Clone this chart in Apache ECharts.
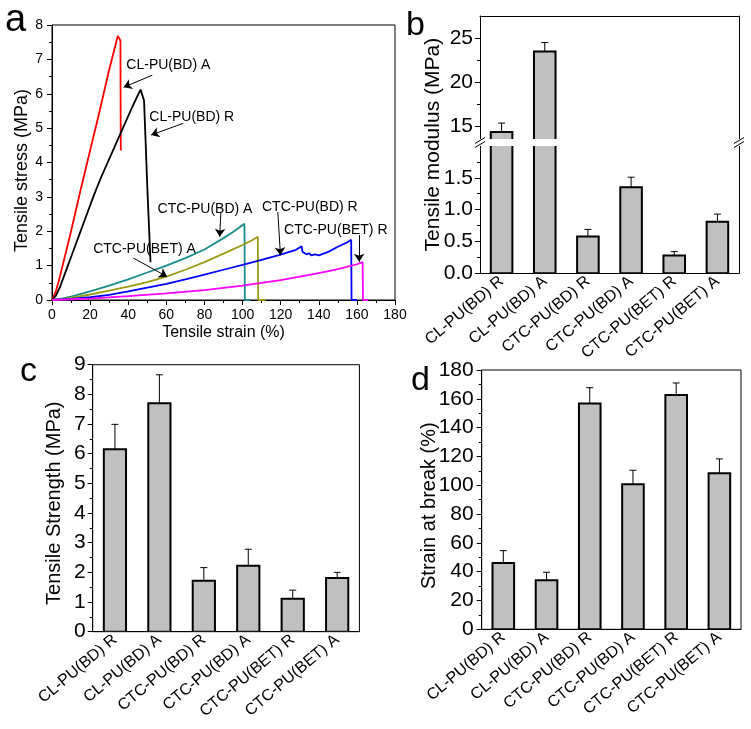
<!DOCTYPE html>
<html><head><meta charset="utf-8">
<script src="https://cdn.jsdelivr.net/npm/echarts@6/dist/echarts.min.js"></script>
<style>html,body{margin:0;padding:0;background:#fff}#c{width:751px;height:729px}</style>
</head><body><div id="c"></div>
<script>
// ---------- DATA ----------
const categories = ['CL-PU(BD) R','CL-PU(BD) A','CTC-PU(BD) R','CTC-PU(BD) A','CTC-PU(BET) R','CTC-PU(BET) A'];

// panel a: stress-strain curves [strain %, stress MPa]
const curveCLA = [[0,0],[2,0.25],[4,0.65],[6,1.1],[10,2.0],[15,3.2],[20,4.35],[25,5.5],[30,6.7],[33,7.35],[34.5,7.68],[35.2,7.62],[35.9,7.55],[36.1,4.35]];
const curveCLR = [[0,0],[2,0.12],[4,0.35],[6,0.65],[8,0.95],[10,1.25],[14,1.85],[18,2.45],[22,3.05],[26,3.6],[30,4.1],[34,4.6],[38,5.1],[42,5.6],[45,5.95],[46.5,6.12],[47.5,6.1],[48.3,5.8],[49,4.8],[50,3.3],[51,2.0],[51.7,1.1]];
const curveCTCBDA = [[0,0],[5,0.04],[10,0.1],[20,0.25],[30,0.42],[40,0.6],[50,0.8],[60,1.0],[70,1.22],[80,1.47],[90,1.8],[95,1.98],[101,2.22],[101.2,0],[104,0]];
const curveCTCBETA = [[0,0],[10,0.06],[20,0.16],[30,0.27],[40,0.39],[50,0.52],[60,0.68],[70,0.88],[80,1.1],[90,1.35],[100,1.6],[105,1.74],[108,1.84],[108.2,0],[112,0]];
const curveCTCBDR = [[0,0],[10,0.03],[20,0.08],[30,0.15],[40,0.25],[50,0.36],[60,0.47],[70,0.6],[80,0.74],[90,0.88],[100,1.02],[110,1.17],[120,1.32],[128,1.46],[131,1.56],[131.5,1.4],[132.5,1.45],[133.5,1.33],[135,1.36],[136,1.3],[138,1.33],[140,1.3],[145,1.4],[150,1.55],[155,1.68],[157,1.75],[157.2,0],[160,0]];
const curveCTCBETR = [[0,0],[20,0.04],[40,0.11],[60,0.19],[80,0.29],[100,0.42],[120,0.58],[140,0.78],[150,0.9],[160,1.04],[163,1.1],[163.2,0],[166,0]];

const annText = ['CL-PU(BD) A','CL-PU(BD) R','CTC-PU(BD) A','CTC-PU(BD) R','CTC-PU(BET) R','CTC-PU(BET) A'];
const annTextPos = [[39,6.83],[51.1,5.32],[55.4,2.65],[110.2,2.71],[121.8,2.03],[21.6,1.47]];
const annArrowFrom = [[52.6,6.54],[68.9,5.14],[88.6,2.53],[118.5,2.56],[161.2,1.89],[42.7,1.22]];
const annArrowTo = [[37.6,6.19],[52.0,4.8],[88.0,1.84],[119.9,1.3],[161.2,1.11],[60.4,0.68]];

// panel b: tensile modulus (MPa)
const modulus = [14.4, 23.5, 0.58, 1.35, 0.28, 0.81];
const modulusErr = [1.0, 1.0, 0.11, 0.16, 0.06, 0.12];
// panel c: tensile strength (MPa)
const strength = [6.15, 7.70, 1.72, 2.22, 1.11, 1.81];
const strengthErr = [0.84, 0.96, 0.44, 0.56, 0.29, 0.19];
// panel d: strain at break (%)
const strainBreak = [46, 34, 156.7, 100.7, 162.7, 108.3];
const strainBreakErr = [8.6, 5.6, 11, 9.7, 8.3, 10];

// tick labels
const bUpperLabels = [15,20,25];
const bUpperMinor = [17.5,22.5];
const bLowerLabels = [0,0.5,1.0,1.5];
const bLowerMinor = [0.25,0.75,1.25,1.75];

// ---------- LAYOUT ----------
const FONT = 'Liberation Sans, Arial, Helvetica, sans-serif';
const GA = {left:52, top:25, width:343, height:275};
const GBU = {left:480, top:16, width:259, height:123};
const GBL = {left:480, top:146, width:259, height:127.3};
const GC = {left:92.7, top:364.7, width:266.7, height:267};
const GD = {left:481.7, top:370, width:259.3, height:259.3};
const BAR_RATIO = 0.5, CAP = 3.5;
const black = '#000';

function gridOf(g, box) {
  return Object.assign({outerBoundsMode:'none', containLabel:false, show:box, borderColor:black, borderWidth:1, backgroundColor:'transparent'}, g);
}
function barRender(params, api) {
  const i = api.value(0), v = api.value(1), e = api.value(2);
  const top = api.coord([i, v]);
  const base = api.coord([i, 0]);
  const et = api.coord([i, v + e]);
  const bw = api.size([1, 0])[0] * BAR_RATIO;
  return {type:'group', children:[
    {type:'rect', shape:{x: top[0]-bw/2, y: top[1], width: bw, height: base[1]-top[1]}, style:{fill:'#c0c0c0', stroke:black, lineWidth:2}},
    {type:'line', shape:{x1: top[0], y1: top[1], x2: et[0], y2: et[1]}, style:{stroke:black, lineWidth:1}},
    {type:'line', shape:{x1: et[0]-CAP, y1: et[1], x2: et[0]+CAP, y2: et[1]}, style:{stroke:black, lineWidth:1}}
  ]};
}
function barData(vals, errs) { return vals.map((v,i)=>[i, v, errs[i]]); }

const axLine = {show:true, lineStyle:{color:black, width:1}};
const catAxis = (gi, showLabels, pos) => ({
  type:'category', gridIndex:gi, data:categories, position:pos||'bottom',
  axisLine:axLine, axisTick:{show:false}, splitLine:{show:false},
  axisLabel:{show:showLabels, interval:0, rotate:40, fontSize:16, color:black, fontFamily:FONT, margin:6}
});
const lineOnlyY = (gi, min, max) => ({type:'value', gridIndex:gi, position:'right', min, max,
  axisLine:axLine, axisTick:{show:false}, axisLabel:{show:false}, splitLine:{show:false}});

const curves = [
  {name:'CL-PU(BD) A', data:curveCLA, color:'#ff0000'},
  {name:'CL-PU(BD) R', data:curveCLR, color:'#000000'},
  {name:'CTC-PU(BD) A', data:curveCTCBDA, color:'#1a8c8c'},
  {name:'CTC-PU(BET) A', data:curveCTCBETA, color:'#9a9a14'},
  {name:'CTC-PU(BD) R', data:curveCTCBDR, color:'#0000ff'},
  {name:'CTC-PU(BET) R', data:curveCTCBETR, color:'#ff00ff'}
];

const series = curves.map((c, k) => {
  const s = {type:'line', name:c.name, xAxisIndex:0, yAxisIndex:0, data:c.data, showSymbol:false, symbol:'none',
    lineStyle:{color:c.color, width:1.8}, itemStyle:{color:c.color}, z: 3};
  if (k === 0) {
    s.markLine = {silent:true, symbol:['none','arrow'], symbolSize:8, animation:false,
      lineStyle:{color:black, width:1, type:'solid'}, label:{show:false},
      data: annArrowFrom.map((f,i)=>[{coord:f},{coord:annArrowTo[i]}])};
    s.markPoint = {silent:true, symbol:'circle', symbolSize:0, animation:false,
      label:{show:true, position:'right', distance:0, fontSize:14, color:black, fontFamily:FONT, formatter:p=>p.name},
      data: annText.map((t,i)=>({name:t, coord:annTextPos[i]}))};
  }
  return s;
});
series.push(
  {type:'custom', xAxisIndex:1, yAxisIndex:1, clip:true, renderItem:barRender, encode:{x:0,y:1}, data:barData(modulus, modulusErr)},
  {type:'custom', xAxisIndex:2, yAxisIndex:4, clip:true, renderItem:barRender, encode:{x:0,y:1}, data:barData(modulus, modulusErr)},
  {type:'custom', xAxisIndex:3, yAxisIndex:7, clip:true, renderItem:barRender, encode:{x:0,y:1}, data:barData(strength, strengthErr)},
  {type:'custom', xAxisIndex:4, yAxisIndex:8, clip:true, renderItem:barRender, encode:{x:0,y:1}, data:barData(strainBreak, strainBreakErr)}
);

const tickOut = (len) => ({show:true, inside:false, length:len, lineStyle:{color:black, width:1}});

const option = {
  animation:false,
  backgroundColor:'#fff',
  textStyle:{fontFamily:FONT},
  grid:[gridOf(GA,true), gridOf(GBU,false), gridOf(GBL,false), gridOf(GC,true), gridOf(GD,true)],
  xAxis:[
    {type:'value', gridIndex:0, min:0, max:180, interval:20, axisLine:axLine,
      axisTick:tickOut(5), minorTick:{show:true, splitNumber:2, length:3, lineStyle:{color:black}},
      axisLabel:{fontSize:14, color:black, fontFamily:FONT, margin:8}, splitLine:{show:false}},
    catAxis(1, false, 'top'),
    catAxis(2, true),
    catAxis(3, true),
    catAxis(4, true)
  ],
  yAxis:[
    {type:'value', gridIndex:0, min:0, max:8, interval:1, axisLine:axLine,
      axisTick:tickOut(5), minorTick:{show:true, splitNumber:2, length:3, lineStyle:{color:black}},
      axisLabel:{fontSize:14, color:black, fontFamily:FONT, margin:9}, splitLine:{show:false}},
    // b upper
    {type:'value', gridIndex:1, position:'left', min:13.6, max:27.5, axisLine:axLine,
      axisTick:Object.assign(tickOut(5), {customValues:bUpperLabels}),
      axisLabel:{customValues:bUpperLabels, fontSize:21, color:black, fontFamily:FONT, margin:7}, splitLine:{show:false}},
    {type:'value', gridIndex:1, position:'left', offset:0, min:13.6, max:27.5, axisLine:{show:false},
      axisTick:Object.assign(tickOut(3), {customValues:bUpperMinor}), axisLabel:{show:false}, splitLine:{show:false}},
    lineOnlyY(1, 13.6, 27.5),
    // b lower
    {type:'value', gridIndex:2, position:'left', min:0, max:2, axisLine:axLine,
      axisTick:Object.assign(tickOut(5), {customValues:bLowerLabels}),
      axisLabel:{customValues:bLowerLabels, formatter:v=>Number(v).toFixed(1), fontSize:21, color:black, fontFamily:FONT, margin:7}, splitLine:{show:false}},
    {type:'value', gridIndex:2, position:'left', offset:0, min:0, max:2, axisLine:{show:false},
      axisTick:Object.assign(tickOut(3), {customValues:bLowerMinor}), axisLabel:{show:false}, splitLine:{show:false}},
    lineOnlyY(2, 0, 2),
    // c
    {type:'value', gridIndex:3, min:0, max:9, interval:1, axisLine:axLine,
      axisTick:tickOut(5), minorTick:{show:true, splitNumber:2, length:3, lineStyle:{color:black}},
      axisLabel:{fontSize:21, color:black, fontFamily:FONT, margin:7}, splitLine:{show:false}},
    // d
    {type:'value', gridIndex:4, min:0, max:180, interval:20, axisLine:axLine,
      axisTick:tickOut(5), minorTick:{show:true, splitNumber:2, length:3, lineStyle:{color:black}},
      axisLabel:{fontSize:21, color:black, fontFamily:FONT, margin:8}, splitLine:{show:false}}
  ],
  series:series,
  graphic:[]
};

// texts: panel letters & axis names
const txt = (text, x, y, size, rot, align) => ({type:'text', x, y, rotation:rot||0, silent:true,
  style:{text, font: size+'px '+FONT, fill:black, align:align||'center', verticalAlign:'middle', textAlign:align||'center', textVerticalAlign:'middle'}});
const bMid = (GBU.top + GBL.top + GBL.height)/2;
option.graphic.push(
  txt('a', 5, 21, 38, 0, 'left'),
  txt('b', 406, 26, 34, 0, 'left'),
  txt('c', 20, 372, 34, 0, 'left'),
  txt('d', 411, 381, 34, 0, 'left'),
  txt('Tensile stress (MPa)', GA.left-30, GA.top+GA.height/2+8, 18, Math.PI/2),
  txt('Tensile strain (%)', GA.left+GA.width/2, GA.top+GA.height+33, 16, 0),
  txt('Tensile modulus (MPa)', GBU.left-47, bMid, 21, Math.PI/2),
  txt('Tensile Strength (MPa)', GC.left-38, GC.top+GC.height/2+5, 20, Math.PI/2),
  txt('Strain at break (%)', GD.left-52, GD.top+GD.height/2+6, 20, Math.PI/2)
);
// axis break marks on panel b
const gapMid = (GBU.top+GBU.height+GBL.top)/2;
[GBU.left, GBU.left+GBU.width].forEach(x => {
  option.graphic.push(
    {type:'rect', shape:{x:x-6, y:gapMid-3.5, width:12, height:7}, style:{fill:'#fff'}, silent:true, z:100},
    {type:'line', shape:{x1:x-5, y1:gapMid+5, x2:x+5, y2:gapMid-1}, style:{stroke:black, lineWidth:1}, silent:true, z:101},
    {type:'line', shape:{x1:x-5, y1:gapMid+1, x2:x+5, y2:gapMid-5}, style:{stroke:black, lineWidth:1}, silent:true, z:101}
  );
});

const chart = echarts.init(document.getElementById('c'), null, {renderer:'canvas', width:751, height:729});
chart.setOption(option);
</script></body></html>
